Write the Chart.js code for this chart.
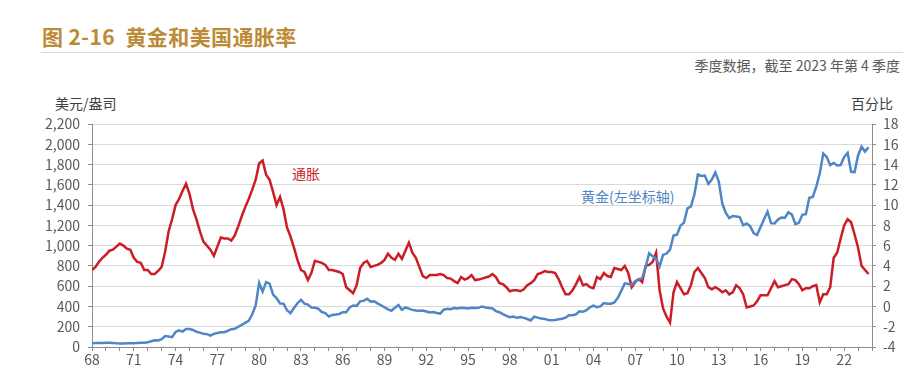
<!DOCTYPE html>
<html lang="zh-CN">
<head>
<meta charset="utf-8">
<title>黄金和美国通胀率</title>
<script src="https://cdn.jsdelivr.net/npm/chart.js@4.4.1/dist/chart.umd.min.js"></script>
<style>
  html, body { margin: 0; padding: 0; background: #fff; }
  body {
    width: 923px; height: 389px; position: relative; overflow: hidden;
    font-family: "Noto Sans CJK SC", "Noto Sans", sans-serif;
  }
  .title {
    position: absolute; left: 42px; top: 22px; font-size: 21px; font-weight: bold;
    color: #bb8b36; white-space: pre; line-height: 28px; letter-spacing: 0.4px;
  }
  .rule { position: absolute; left: 41px; top: 52px; width: 862px; height: 1px; background: #d9d9d9; }
  .note { position: absolute; right: 23px; top: 55px; font-size: 14px; color: #595959; line-height: 20px; }
  .unit { position: absolute; top: 93px; font-size: 14px; color: #404040; line-height: 20px; }
  .tag { position: absolute; font-size: 14px; line-height: 20px; }
  #box { position: absolute; left: 0; top: 0; width: 923px; height: 389px; }
</style>
</head>
<body>
<div class="title">图 2-16  黄金和美国通胀率</div>
<div class="rule"></div>
<div class="note">季度数据，截至 2023 年第 4 季度</div>
<div class="unit" style="left:55px">美元/盎司</div>
<div class="unit" style="right:30px">百分比</div>
<div class="tag" style="left:292px;top:163px;color:#cc1d26">通胀</div>
<div class="tag" style="left:581px;top:186px;color:#4f86c6">黄金(左坐标轴)</div>
<div id="box"><canvas id="chart" width="923" height="389"></canvas></div>

<script>
// 1968Q1 - 2023Q4, one row per year
const START_YEAR = 1968;

// gold, US$/oz, quarterly average
const gold = [
  36, 40, 39, 39,       43, 42, 40, 36,       35, 35, 36, 37,       38, 40, 42, 43,
  47, 56, 66, 64,       78, 108, 104, 97,     148, 165, 152, 178,   177, 168, 150, 142,
  130, 127, 112, 130,   138, 146, 146, 160,   176, 180, 200, 218,   238, 258, 320, 410,
  632, 548, 640, 625,   518, 482, 430, 428,   362, 334, 385, 432,   466, 428, 418, 390,
  387, 378, 345, 334,   300, 316, 320, 326,   344, 344, 390, 410,   406, 450, 455, 476,
  448, 452, 430, 412,   392, 372, 358, 388,   414, 368, 390, 378,   366, 360, 357, 360,
  350, 340, 345, 335,   330, 368, 376, 373,   384, 380, 386, 384,   379, 387, 384, 386,
  400, 390, 385, 380,   354, 343, 324, 307,   294, 300, 288, 296,   287, 276, 262, 300,
  290, 280, 277, 267,   264, 267, 274, 279,   290, 313, 314, 323,   352, 347, 363, 391,
  408, 393, 401, 434,   427, 427, 440, 485,   554, 628, 622, 614,   650, 667, 680, 788,
  925, 896, 872, 795,   908, 922, 960, 1100,  1109, 1197, 1227, 1367, 1386, 1506, 1702, 1688,
  1691, 1609, 1652, 1722, 1632, 1415, 1326, 1272, 1293, 1288, 1282, 1201, 1218, 1192, 1124, 1105,
  1183, 1260, 1335, 1222, 1219, 1257, 1278, 1275, 1329, 1306, 1213, 1226, 1304, 1310, 1472, 1481,
  1583, 1711, 1909, 1874, 1794, 1816, 1790, 1795, 1874, 1915, 1729, 1726, 1890, 1976, 1928, 1971
];

// US CPI inflation, % y/y
const inflation = [
  3.6, 3.9, 4.4, 4.8,   5.1, 5.5, 5.6, 5.9,   6.2, 6.0, 5.7, 5.6,   4.8, 4.4, 4.3, 3.6,
  3.6, 3.2, 3.2, 3.5,   3.9, 5.4, 7.4, 8.6,   10.0, 10.6, 11.4, 12.1, 11.1, 9.6, 8.6, 7.4,
  6.4, 6.0, 5.6, 5.0,   5.9, 6.8, 6.7, 6.7,   6.5, 7.0, 7.9, 8.9,   9.8, 10.6, 11.5, 12.5,
  14.1, 14.4, 13.0, 12.5, 11.3, 10.0, 10.8, 9.6, 7.8, 6.9, 5.8, 4.6, 3.6, 3.4, 2.6, 3.3,
  4.5, 4.4, 4.3, 4.1,   3.6, 3.6, 3.5, 3.4,   3.2, 1.9, 1.6, 1.3,   2.1, 3.8, 4.3, 4.5,
  3.9, 4.0, 4.1, 4.3,   4.6, 5.2, 4.8, 4.6,   5.2, 4.7, 5.5, 6.3,   5.3, 4.8, 3.9, 3.0,
  2.8, 3.1, 3.1, 3.1,   3.2, 3.1, 2.8, 2.75,  2.5, 2.3, 2.9, 2.65,  2.8, 3.1, 2.6, 2.65,
  2.75, 2.85, 2.95, 3.2, 2.9, 2.3, 2.2, 1.9,  1.5, 1.6, 1.6, 1.5,   1.7, 2.1, 2.3, 2.6,
  3.2, 3.3, 3.5, 3.4,   3.4, 3.3, 2.7, 1.9,   1.2, 1.2, 1.6, 2.2,   2.9, 2.1, 2.2, 1.9,
  1.8, 2.9, 2.7, 3.3,   3.0, 2.9, 3.8, 3.7,   3.6, 4.0, 3.3, 1.9,   2.4, 2.7, 2.4, 4.0,
  4.1, 4.4, 5.3, 1.6,   -0.2, -1.0, -1.6, 1.4, 2.4, 1.8, 1.2, 1.3,  2.1, 3.4, 3.8, 3.3,
  2.8, 1.9, 1.7, 1.9,   1.7, 1.4, 1.6, 1.2,   1.4, 2.1, 1.8, 1.2,   -0.1, 0.0, 0.1, 0.5,
  1.1, 1.1, 1.1, 1.8,   2.5, 1.9, 2.0, 2.1,   2.2, 2.7, 2.6, 2.2,   1.6, 1.8, 1.8, 2.0,
  2.1, 0.4, 1.2, 1.2,   1.9, 4.8, 5.3, 6.7,   8.0, 8.6, 8.3, 7.1,   5.8, 4.0, 3.6, 3.2
];

const yearLabels = ["68", "71", "74", "77", "80", "83", "86", "89", "92", "95",
  "98", "01", "04", "07", "10", "13", "16", "19", "22"];

const textColor = "#595959";
const axisColor = "#8c8c8c";
const gridColor = "#d9d9d9";
const tickFont = { family: '"Noto Sans CJK SC", "Noto Sans", sans-serif', size: 14 };

const toPoints = (values) => values.map((v, i) => ({ x: START_YEAR + i / 4, y: v }));

new Chart(document.getElementById("chart"), {
  type: "line",
  data: {
    datasets: [
      {
        label: "黄金",
        data: toPoints(gold),
        yAxisID: "y",
        borderColor: "#4f86c6",
        borderWidth: 2.5,
        pointRadius: 0,
        tension: 0
      },
      {
        label: "通胀",
        data: toPoints(inflation),
        yAxisID: "y1",
        borderColor: "#cc1d26",
        borderWidth: 2.5,
        pointRadius: 0,
        tension: 0
      }
    ]
  },
  options: {
    responsive: false,
    animation: false,
    layout: { padding: { top: 124, bottom: 12, left: 0, right: 0 } },
    plugins: { legend: { display: false }, tooltip: { enabled: false } },
    scales: {
      x: {
        type: "linear",
        min: 1968,
        max: 2024,
        afterFit(scale) { scale.height = 30; },
        border: { color: axisColor },
        grid: { drawOnChartArea: false, tickLength: 4, tickColor: axisColor },
        ticks: {
          stepSize: 1,
          autoSkip: false,
          maxRotation: 0,
          padding: 0,
          color: textColor,
          font: tickFont,
          callback(value) {
            const i = (value - START_YEAR) / 3;
            return Number.isInteger(i) && yearLabels[i] ? yearLabels[i] : "";
          }
        }
      },
      y: {
        position: "left",
        min: 0,
        max: 2200,
        afterFit(scale) { scale.width = 92; },
        border: { color: axisColor },
        grid: { color: gridColor, tickLength: 4, tickColor: axisColor },
        ticks: {
          stepSize: 200,
          padding: 8,
          color: textColor,
          font: tickFont,
          callback: (v) => v.toLocaleString("en-US")
        }
      },
      y1: {
        position: "right",
        min: -4,
        max: 18,
        afterFit(scale) { scale.width = 51; },
        border: { color: axisColor },
        grid: { drawOnChartArea: false, tickLength: 4, tickColor: axisColor },
        ticks: { stepSize: 2, padding: 7, color: textColor, font: tickFont }
      }
    }
  }
});
</script>
</body>
</html>
